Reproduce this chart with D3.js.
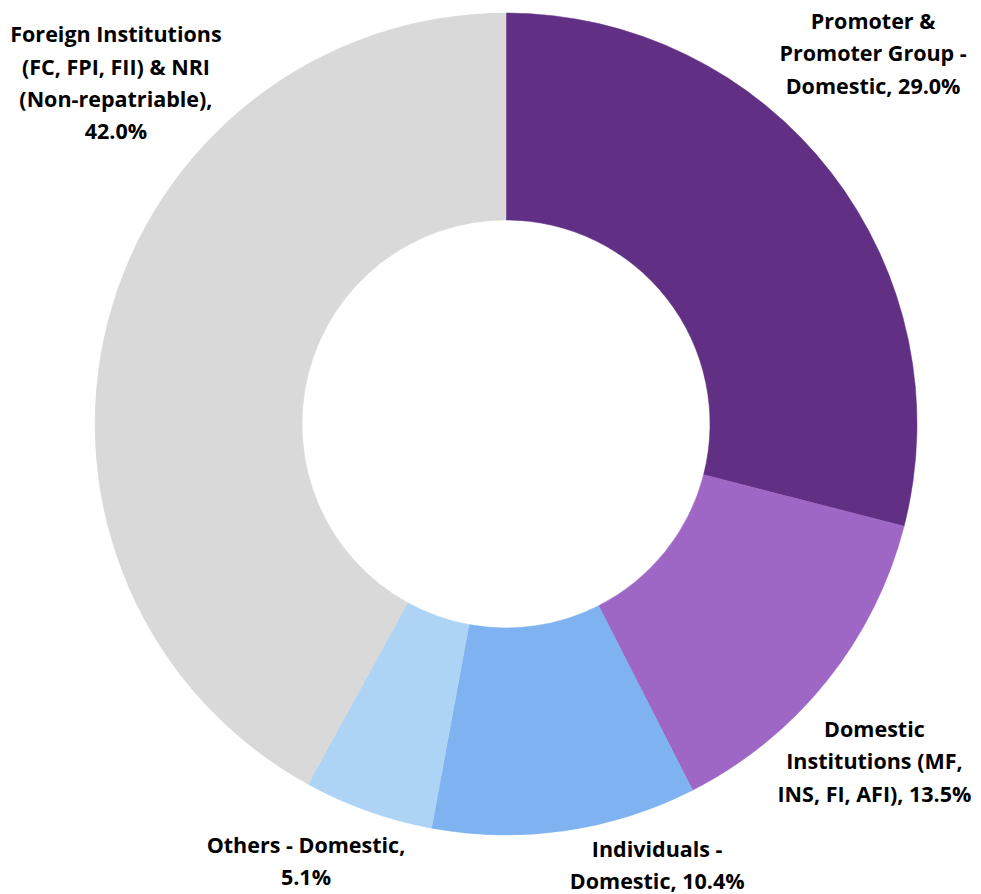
<!DOCTYPE html>
<html>
<head>
<meta charset="utf-8">
<script src="https://cdn.jsdelivr.net/npm/d3@7"></script>
<style>
  body { margin: 0; background: #fff; }
  svg text { font-family: "Open Sans", Lato, sans-serif; font-weight: bold; fill: #000; }
</style>
</head>
<body>
<svg id="chart"></svg>
<script>
// shareholding categories, clockwise from 12 o'clock
var categories = [
  "Promoter & Promoter Group - Domestic",
  "Domestic Institutions (MF, INS, FI, AFI)",
  "Individuals - Domestic",
  "Others - Domestic",
  "Foreign Institutions (FC, FPI, FII) & NRI (Non-repatriable)"
];
var shares = [29.0, 13.5, 10.4, 5.1, 42.0];
var colors = ["#612F84", "#9E67C6", "#7EB2F0", "#AED4F5", "#D9D9D9"];

// how each data label is wrapped
var labelLines = [
  ["Promoter &", "Promoter Group -", "Domestic, 29.0%"],
  ["Domestic", "Institutions (MF,", "INS, FI, AFI), 13.5%"],
  ["Individuals -", "Domestic, 10.4%"],
  ["Others - Domestic,", "5.1%"],
  ["Foreign Institutions", "(FC, FPI, FII) & NRI", "(Non-repatriable),", "42.0%"]
];

window.onload = function() {
  var width = 981, height = 894;
  var cx = 506, cy = 424;
  var outerR = 411, innerR = 204;
  var lineH = 32.3;

  // label placement (angle in degrees from top, distance from centre)
  var labelPolar = [[45.35, 516], [133.15, 505], [161.4, 474], [204.2, 488], [310.5, 513]];

  var svg = d3.select("#chart").attr("width", width).attr("height", height);
  var g = svg.append("g").attr("transform", "translate(" + cx + "," + cy + ")");

  var pie = d3.pie().sort(null).value(function(d) { return d; });
  var arc = d3.arc().innerRadius(innerR).outerRadius(outerR);
  var arcs = pie(shares);

  g.selectAll("path.slice")
    .data(arcs)
    .enter().append("path")
      .attr("class", "slice")
      .attr("d", arc)
      .attr("fill", function(d, i) { return colors[i]; })
      .attr("stroke", function(d, i) { return colors[i]; })
      .attr("stroke-width", 0.5);

  var labels = g.selectAll("text.lbl")
    .data(arcs)
    .enter().append("text")
      .attr("class", "lbl")
      .attr("text-anchor", "middle")
      .style("font-size", "21.5px")
      .attr("transform", function(d, i) {
        var a = labelPolar[i][0] * Math.PI / 180, r = labelPolar[i][1];
        return "translate(" + (Math.sin(a) * r) + "," + (-Math.cos(a) * r) + ")";
      });

  labels.each(function(d, i) {
    var lines = labelLines[i];
    var t = d3.select(this);
    var y0 = -(lines.length - 1) * lineH / 2;
    lines.forEach(function(s, k) {
      t.append("tspan").attr("x", 0).attr("y", y0 + k * lineH).text(s);
    });
  });
};
</script>
</body>
</html>
